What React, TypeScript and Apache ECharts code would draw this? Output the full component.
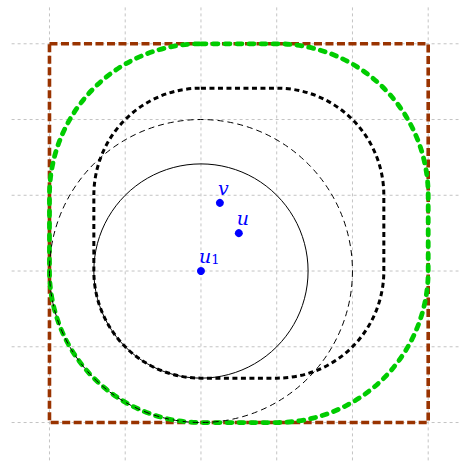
import React, { useEffect, useRef } from "react";
import * as echarts from "echarts";

// Axis window (data units)
const xRange = [-2.5, 3.4];
const yRange = [-2.5, 3.5];

// Grid line positions
const gridX = [-2, -1, 0, 1, 2, 3];
const gridY = [-2, -1, 0, 1, 2, 3];

// Brown square [x0, y0, x1, y1]
const outerSquare = [-2, -2, 3, 3];

// Rounded squares: inner unit square grown by a radius
const innerSquare = [0, 0, 1, 1];
const greenRadius = 2;
const blackRadius = Math.SQRT2;

// Circles around u1: [cx, cy, r]
const solidCircle = [0, 0, Math.SQRT2];
const dashedCircle = [0, 0, 2];

// Points
const pointNames = ["u1", "u", "v"];
const pointX = [0, 0.5, 0.25];
const pointY = [0, 0.5, 0.9];

export default function App() {
  const ref = useRef<HTMLDivElement>(null);

  useEffect(() => {
    if (!ref.current) return;
    const chart = echarts.init(ref.current, undefined, { renderer: "svg" });

    const gridStyle = { stroke: "#c4c4c4", lineWidth: 1, lineDash: [3, 3], fill: null };

    const roundedRect = (r: number, style: any) => ({
      type: "custom",
      coordinateSystem: "cartesian2d",
      silent: true,
      data: [[innerSquare[0], innerSquare[1], innerSquare[2], innerSquare[3], r]],
      renderItem: (params: any, api: any) => {
        const rr = api.value(4);
        const p1 = api.coord([api.value(0) - rr, api.value(3) + rr]);
        const p2 = api.coord([api.value(2) + rr, api.value(1) - rr]);
        const rpx = api.size([rr, rr])[0];
        return {
          type: "rect",
          shape: { x: p1[0], y: p1[1], width: p2[0] - p1[0], height: p2[1] - p1[1], r: rpx },
          style,
        };
      },
    });

    const circle = (c: number[], style: any) => ({
      type: "custom",
      coordinateSystem: "cartesian2d",
      silent: true,
      data: [c],
      renderItem: (params: any, api: any) => {
        const p = api.coord([api.value(0), api.value(1)]);
        const r = api.size([api.value(2), api.value(2)])[0];
        return { type: "circle", shape: { cx: p[0], cy: p[1], r }, style };
      },
    });

    const option: any = {
      animation: false,
      grid: { left: 11.6, top: 5.9, width: 446.9, height: 454.5 },
      xAxis: { type: "value", min: xRange[0], max: xRange[1], show: false },
      yAxis: { type: "value", min: yRange[0], max: yRange[1], show: false },
      series: [
        {
          type: "custom",
          coordinateSystem: "cartesian2d",
          silent: true,
          data: gridX.map((g) => [g, 0]),
          renderItem: (params: any, api: any) => {
            const a = api.coord([api.value(0), yRange[0]]);
            const b = api.coord([api.value(0), yRange[1]]);
            return { type: "line", shape: { x1: a[0], y1: a[1], x2: b[0], y2: b[1] }, style: gridStyle };
          },
        },
        {
          type: "custom",
          coordinateSystem: "cartesian2d",
          silent: true,
          data: gridY.map((g) => [0, g]),
          renderItem: (params: any, api: any) => {
            const a = api.coord([xRange[0], api.value(1)]);
            const b = api.coord([xRange[1], api.value(1)]);
            return { type: "line", shape: { x1: a[0], y1: a[1], x2: b[0], y2: b[1] }, style: gridStyle };
          },
        },
        {
          type: "custom",
          coordinateSystem: "cartesian2d",
          silent: true,
          data: [outerSquare],
          renderItem: (params: any, api: any) => {
            const p1 = api.coord([api.value(0), api.value(3)]);
            const p2 = api.coord([api.value(2), api.value(1)]);
            return {
              type: "rect",
              shape: { x: p1[0], y: p1[1], width: p2[0] - p1[0], height: p2[1] - p1[1] },
              style: { stroke: "#993300", lineWidth: 3.6, lineDash: [8, 3.5], fill: null },
            };
          },
        },
        roundedRect(greenRadius, {
          stroke: "#00cc00",
          lineWidth: 4.8,
          lineDash: [5, 7],
          lineCap: "round",
          fill: null,
        }),
        circle(dashedCircle, { stroke: "#000", lineWidth: 1, lineDash: [6, 4], fill: null }),
        roundedRect(blackRadius, {
          stroke: "#000",
          lineWidth: 3,
          lineDash: [5, 3.5],
          fill: null,
        }),
        circle(solidCircle, { stroke: "#000", lineWidth: 1, fill: null }),
        {
          type: "scatter",
          symbolSize: 8,
          itemStyle: { color: "#0000ff", opacity: 1 },
          data: pointNames.map((n, i) => ({ name: n, value: [pointX[i], pointY[i]] })),
          label: {
            show: true,
            position: [2, -1],
            align: "left",
            verticalAlign: "bottom",
            color: "#0000ff",
            opacity: 1,
            formatter: (p: any) =>
              p.name === "u1" ? "{i|u}{s|1}" : "{i|" + p.name + "}",
            rich: {
              i: {
                fontFamily: "DejaVu Serif",
                fontStyle: "italic",
                fontSize: 19,
                color: "#0000ff",
                lineHeight: 20,
              },
              s: {
                fontFamily: "DejaVu Serif",
                fontSize: 13,
                color: "#0000ff",
                verticalAlign: "bottom",
                lineHeight: 14,
              },
            },
          },
        },
      ],
    };

    chart.setOption(option);
    return () => chart.dispose();
  }, []);

  return (
    <div
      ref={ref}
      style={{ position: "absolute", left: 0, top: 0, width: 459, height: 464, background: "#fff" }}
    />
  );
}
